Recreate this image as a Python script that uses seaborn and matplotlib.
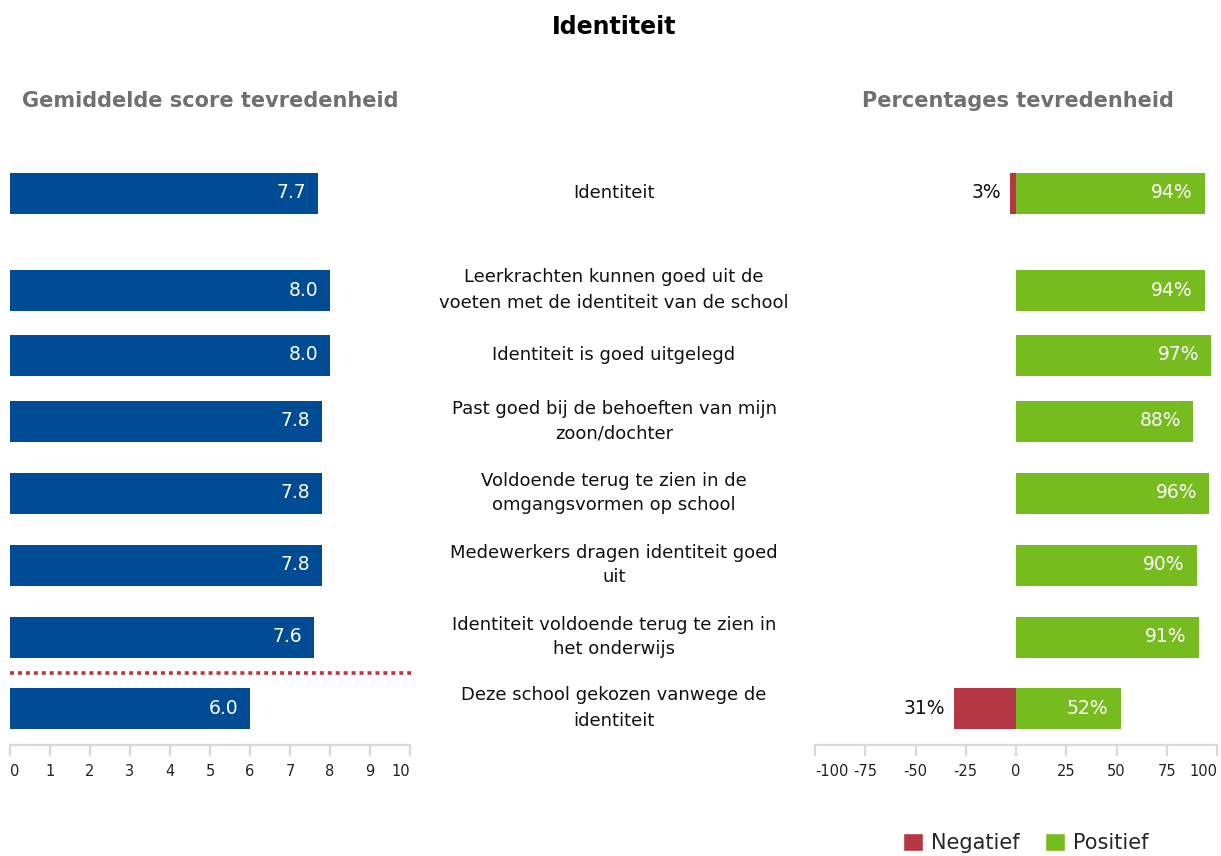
import numpy as np
import pandas as pd
import matplotlib
matplotlib.use("Agg")
import matplotlib.pyplot as plt
from matplotlib.patches import Patch
import matplotlib.transforms as mtransforms
import seaborn as sns

# ---------------- data ----------------
items = [
    "Identiteit",
    "Leerkrachten kunnen goed uit de\nvoeten met de identiteit van de school",
    "Identiteit is goed uitgelegd",
    "Past goed bij de behoeften van mijn\nzoon/dochter",
    "Voldoende terug te zien in de\nomgangsvormen op school",
    "Medewerkers dragen identiteit goed\nuit",
    "Identiteit voldoende terug te zien in\nhet onderwijs",
    "Deze school gekozen vanwege de\nidentiteit",
]
scores = [7.7, 8.0, 8.0, 7.8, 7.8, 7.8, 7.6, 6.0]
negatief = [3, 0, 0, 0, 0, 0, 0, 31]
positief = [94, 94, 97, 88, 96, 90, 91, 52]
score_ticks = list(range(0, 11))
pct_ticks = [-100, -75, -50, -25, 0, 25, 50, 75, 100]

# ---------------- layout ----------------
W, H = 1221, 856
row_y = [193, 290, 355, 421, 493, 565, 637, 708]   # row centres (px from top)
bar_h = 41
y_top, y_bot = 150, 745
sep_y = 673

BLUE = "#004C94"
RED = "#B53743"
GREEN = "#77BC1F"
GRID = "#d9d9d9"
GREY_T = "#707070"

sns.set_theme(style="white")
plt.rcParams["font.family"] = ["DejaVu Sans"]

fig = plt.figure(figsize=(W / 100, H / 100), dpi=100)

def axes_px(x0, x1):
    return fig.add_axes([x0 / W, (H - y_bot) / H, (x1 - x0) / W, (y_bot - y_top) / H])

axL = axes_px(10, 410)
axR = axes_px(815, 1217)

df = pd.DataFrame({"item": items, "y": row_y, "score": scores,
                   "neg": [-v for v in negatief], "pos": positief})
rel_w = bar_h / float(np.min(np.diff(row_y)))

common = dict(orient="h", native_scale=True, width=rel_w, saturation=1,
              errorbar=None, linewidth=0, edgecolor="none")
sns.barplot(data=df, x="score", y="y", color=BLUE, ax=axL, **common)
sns.barplot(data=df, x="pos", y="y", color=GREEN, ax=axR, **common)
sns.barplot(data=df, x="neg", y="y", color=RED, ax=axR, **common)

for ax, lim, ticks in [(axL, (0, 10), score_ticks), (axR, (-100, 100), pct_ticks)]:
    ax.set_xlim(*lim)
    ax.set_ylim(y_bot, y_top)
    ax.set_xticks(ticks)
    ax.set_xticklabels([str(t) for t in ticks])
    ax.set_yticks([])
    ax.set_xlabel("")
    ax.set_ylabel("")
    for s in ["top", "right", "left"]:
        ax.spines[s].set_visible(False)
    ax.spines["bottom"].set_color(GRID)
    ax.spines["bottom"].set_linewidth(1.6)
    ax.tick_params(axis="x", bottom=True, direction="out", length=8, width=1.6,
                   color=GRID, labelsize=10.5, labelcolor="#222222", pad=6)
    ax.patch.set_alpha(0)
    labs = ax.get_xticklabels()
    labs[0].set_horizontalalignment("left")
    labs[-1].set_horizontalalignment("right")

# value labels
fs_val = 13.5
for yv, s in zip(row_y, scores):
    axL.text(s - 0.3, yv, f"{s:.1f}", ha="right", va="center", color="white", fontsize=fs_val)
for yv, p, n in zip(row_y, positief, negatief):
    axR.text(p - 6, yv, f"{p}%", ha="right", va="center", color="white", fontsize=fs_val)
    if n > 0:
        axR.text(-n - 4.5, yv, f"{n}%", ha="right", va="center", color="#111111", fontsize=fs_val)

# dotted separator
axL.plot([0, 10.08], [sep_y, sep_y], color=RED, lw=2.6, linestyle=(0, (1.1, 1.1)),
         clip_on=False, solid_capstyle="butt")

# category labels in the middle
trans = mtransforms.blended_transform_factory(fig.transFigure, axL.transData)
for yv, lab in zip(row_y, items):
    fig.text(614 / W, yv, lab, transform=trans, ha="center", va="center",
             fontsize=13, color="#111111", linespacing=1.5)

# titles
fig.text(614 / W, 1 - 27 / H, "Identiteit", ha="center", va="center",
         fontsize=17, fontweight="bold", color="black")
fig.text(210 / W, 1 - 101 / H, "Gemiddelde score tevredenheid", ha="center", va="center",
         fontsize=15, fontweight="bold", color=GREY_T)
fig.text(1018 / W, 1 - 101 / H, "Percentages tevredenheid", ha="center", va="center",
         fontsize=15, fontweight="bold", color=GREY_T)

# legend
handles = [Patch(facecolor=RED, label="Negatief"), Patch(facecolor=GREEN, label="Positief")]
fig.legend(handles=handles, loc="center", bbox_to_anchor=(1026 / W, 1 - 843 / H),
           ncol=2, frameon=False, fontsize=15, handlelength=0.95, handleheight=0.95,
           handletextpad=0.4, columnspacing=1.2)

fig.savefig("out.png", dpi=100)
